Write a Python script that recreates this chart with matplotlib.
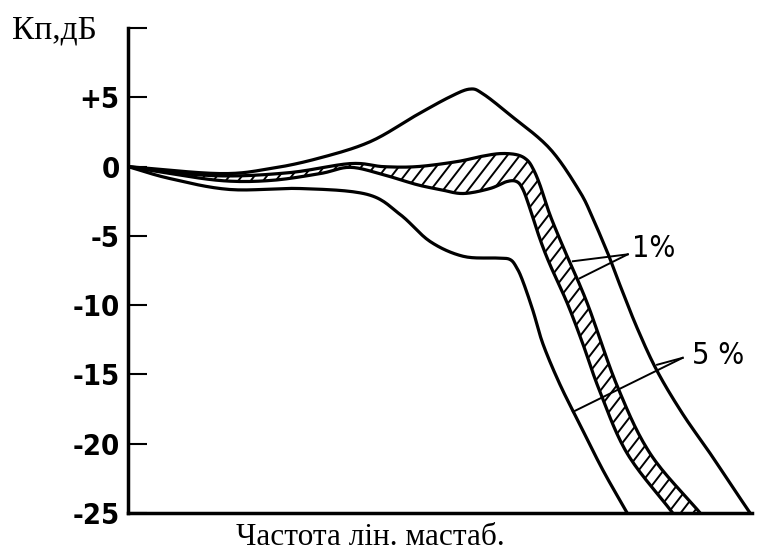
import numpy as np
import matplotlib.pyplot as plt
from matplotlib.patches import Polygon

# frequency in relative units (0..100, linear scale), gain in dB
upper5_x = [0, 14.7, 22.8, 30.5, 38.8, 46.3, 51.6, 54.8, 56.9, 61.2, 67.6, 72.4,
            74.5, 76.1, 77.2, 78.8, 81.6, 84.8, 88.9, 93.3, 97.0, 99.7]
upper5_y = [0, -0.5, -0.14, 0.6, 1.8, 3.74, 5.04, 5.6, 5.25, 3.74, 1.3, -1.8,
            -3.74, -5.4, -6.6, -8.5, -11.65, -14.75, -17.85, -20.7, -23.2, -25.0]

lower5_x = [0, 6.7, 16.3, 27.6, 38.3, 43.6, 48.4, 53.7, 59.1, 61.2, 62.3, 63.3, 64.9,
            66.5, 69.2, 72.4, 76.1, 80.0]
lower5_y = [0, -0.86, -1.65, -1.58, -2.0, -3.45, -5.4, -6.47, -6.6, -6.7, -7.3, -8.3,
            -10.4, -12.8, -15.7, -18.6, -21.9, -25.0]

upper1_x = [0, 13.6, 25.5, 35.6, 40.9, 46.3, 52.7, 56.4, 59.6, 62.3, 63.9, 64.9, 66.0,
            67.6, 69.7, 73.6, 78.4, 83.7, 91.7]
upper1_y = [0, -0.65, -0.45, 0.22, 0.0, 0.0, 0.36, 0.72, 0.94, 0.86, 0.5, -0.14, -1.3,
            -3.45, -5.76, -9.86, -15.83, -20.72, -25.0]

lower1_x = [0, 4.0, 14.7, 22.8, 30.8, 35.6, 40.9, 46.3, 50.0, 53.7, 58.0, 60.7, 62.3,
            63.3, 64.4, 66.0, 67.6, 70.4, 72.9, 75.6, 80.0, 87.3]
lower1_y = [0, -0.3, -1.0, -1.0, -0.5, -0.05, -0.58, -1.3, -1.65, -1.94, -1.58, -1.08, -1.08,
            -1.65, -3.0, -5.2, -7.05, -9.86, -12.8, -16.2, -20.7, -25.0]

yticks = [-25, -20, -15, -10, -5, 0, 5, 10]
ytick_labels = ['-25', '-20', '-15', '-10', '-5', '0', '+5', '']


def smooth(x, y, n=16):
    # Catmull-Rom curve through the given points, for drawing only
    p = np.column_stack([x, y]).astype(float)
    p = np.vstack([2 * p[0] - p[1], p, 2 * p[-1] - p[-2]])
    t = np.linspace(0, 1, n, endpoint=False)[:, None]
    out = []
    for i in range(1, len(p) - 2):
        p0, p1, p2, p3 = p[i - 1], p[i], p[i + 1], p[i + 2]
        seg = 0.5 * ((2 * p1) + (-p0 + p2) * t + (2 * p0 - 5 * p1 + 4 * p2 - p3) * t ** 2
                     + (-p0 + 3 * p1 - 3 * p2 + p3) * t ** 3)
        out.append(seg)
    out.append(p[-2][None, :])
    out = np.vstack(out)
    return out[:, 0], out[:, 1]


tick_font = 'DejaVu Sans'
tick_stretch = 'condensed'

fig = plt.figure(figsize=(7.58, 5.51), dpi=100)
ax = fig.add_axes([0.169, 0.069, 0.823, 0.88])

lw = 2.3
curves = [(upper5_x, upper5_y), (lower5_x, lower5_y),
          (upper1_x, upper1_y), (lower1_x, lower1_y)]
for cx, cy in curves:
    sx, sy = smooth(cx, cy)
    ax.plot(sx, sy, color='black', lw=lw, solid_joinstyle='round')

# hatched 1% band
bx1, by1 = smooth(upper1_x, upper1_y)
bx2, by2 = smooth(lower1_x, lower1_y)
band = Polygon(np.column_stack([np.r_[bx1, bx2[::-1]], np.r_[by1, by2[::-1]]]),
               closed=True, facecolor='none', edgecolor='none')
ax.add_patch(band)
slope = 1.3 * 6.24 / 13.9
for x0 in np.arange(-120, 110, 2.0):
    ln, = ax.plot([x0, x0 + 40 / slope], [-30, 10], color='black', lw=1.4)
    ln.set_clip_path(band)

# leader lines
ax.plot([80.1, 71.3], [-6.33, -6.83], color='black', lw=1.4)
ax.plot([80.1, 72.4], [-6.33, -8.06], color='black', lw=1.4)
ax.plot([88.9, 84.8], [-13.8, -14.3], color='black', lw=1.4)
ax.plot([88.9, 71.3], [-13.8, -17.7], color='black', lw=1.4)
ax.text(80.8, -5.9, '1%', fontsize=22, va='center', ha='left',
        family=tick_font, stretch=tick_stretch)
ax.text(90.4, -13.6, '5 %', fontsize=22, va='center', ha='left',
        family=tick_font, stretch=tick_stretch)

ax.set_xlim(0, 100)
ax.set_ylim(-25, 10)
ax.set_xticks([])
ax.set_yticks(yticks)
ax.set_yticklabels(ytick_labels, fontsize=21, family=tick_font, stretch=tick_stretch,
                   weight='bold')
ax.tick_params(axis='y', direction='in', length=14, width=1.5, pad=6)
for s in ['top', 'right']:
    ax.spines[s].set_visible(False)
for s in ['left', 'bottom']:
    ax.spines[s].set_linewidth(2.5)

fig.text(0.016, 0.945, 'Кп,дБ', fontsize=24, family='Liberation Serif', va='center', ha='left')
fig.text(0.489, 0.025, 'Частота лін. мастаб.', fontsize=22.5, family='Liberation Serif',
         va='center', ha='center')

fig.savefig('out.png', dpi=100)
